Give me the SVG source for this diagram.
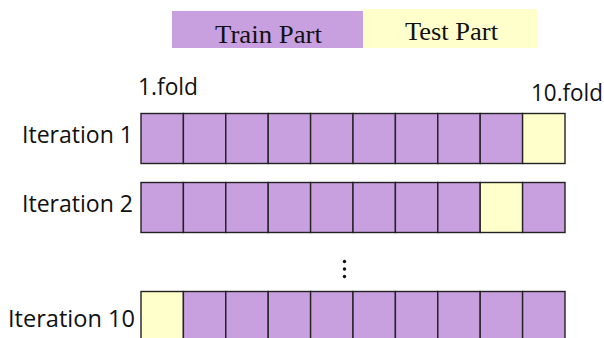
<svg xmlns="http://www.w3.org/2000/svg" width="604" height="338" viewBox="0 0 604 338">
<style>
.tr{fill:#C8A0E0;stroke:#222;stroke-width:1.4}
.te{fill:#FFFFCC;stroke:#222;stroke-width:1.4}
.lbl{font-family:"Open Sans","Noto Sans",sans-serif;font-size:23px;fill:#111}
.leg{font-family:"Liberation Serif","Times New Roman",serif;font-size:26px;fill:#111}
</style>
<rect width="604" height="338" fill="#fff"/>
<g id="legend">
<rect x="172" y="11" width="191" height="37" fill="#C8A0E0"/>
<rect x="363" y="9" width="175" height="39" fill="#FFFFCC"/>
<text class="leg" x="215" y="43" textLength="107" lengthAdjust="spacingAndGlyphs">Train Part</text>
<text class="leg" x="405" y="40" textLength="93" lengthAdjust="spacingAndGlyphs">Test Part</text>
</g>
<g id="fold-labels">
<text class="lbl" x="138" y="95" textLength="60" lengthAdjust="spacingAndGlyphs">1.fold</text>
<text class="lbl" x="531" y="101" textLength="72" lengthAdjust="spacingAndGlyphs">10.fold</text>
</g>
<g id="iteration1">
<text class="lbl" x="22" y="143" textLength="111" lengthAdjust="spacingAndGlyphs">Iteration 1</text>
<rect class="tr" x="141" y="113.5" width="42.4" height="50"/>
<rect class="tr" x="183.4" y="113.5" width="42.4" height="50"/>
<rect class="tr" x="225.8" y="113.5" width="42.4" height="50"/>
<rect class="tr" x="268.2" y="113.5" width="42.4" height="50"/>
<rect class="tr" x="310.6" y="113.5" width="42.4" height="50"/>
<rect class="tr" x="353" y="113.5" width="42.4" height="50"/>
<rect class="tr" x="395.4" y="113.5" width="42.4" height="50"/>
<rect class="tr" x="437.8" y="113.5" width="42.4" height="50"/>
<rect class="tr" x="480.2" y="113.5" width="42.4" height="50"/>
<rect class="te" x="522.6" y="113.5" width="42.4" height="50"/>
</g>
<g id="iteration2">
<text class="lbl" x="22" y="212" textLength="111" lengthAdjust="spacingAndGlyphs">Iteration 2</text>
<rect class="tr" x="141" y="182.5" width="42.4" height="50"/>
<rect class="tr" x="183.4" y="182.5" width="42.4" height="50"/>
<rect class="tr" x="225.8" y="182.5" width="42.4" height="50"/>
<rect class="tr" x="268.2" y="182.5" width="42.4" height="50"/>
<rect class="tr" x="310.6" y="182.5" width="42.4" height="50"/>
<rect class="tr" x="353" y="182.5" width="42.4" height="50"/>
<rect class="tr" x="395.4" y="182.5" width="42.4" height="50"/>
<rect class="tr" x="437.8" y="182.5" width="42.4" height="50"/>
<rect class="te" x="480.2" y="182.5" width="42.4" height="50"/>
<rect class="tr" x="522.6" y="182.5" width="42.4" height="50"/>
</g>
<g id="ellipsis" fill="#111">
<circle cx="344.5" cy="261.5" r="1.7"/>
<circle cx="344.5" cy="269" r="1.7"/>
<circle cx="344.5" cy="276.5" r="1.7"/>
</g>
<g id="iteration10">
<text class="lbl" x="8" y="327" textLength="127" lengthAdjust="spacingAndGlyphs">Iteration 10</text>
<rect class="te" x="141" y="291.5" width="42.4" height="50"/>
<rect class="tr" x="183.4" y="291.5" width="42.4" height="50"/>
<rect class="tr" x="225.8" y="291.5" width="42.4" height="50"/>
<rect class="tr" x="268.2" y="291.5" width="42.4" height="50"/>
<rect class="tr" x="310.6" y="291.5" width="42.4" height="50"/>
<rect class="tr" x="353" y="291.5" width="42.4" height="50"/>
<rect class="tr" x="395.4" y="291.5" width="42.4" height="50"/>
<rect class="tr" x="437.8" y="291.5" width="42.4" height="50"/>
<rect class="tr" x="480.2" y="291.5" width="42.4" height="50"/>
<rect class="tr" x="522.6" y="291.5" width="42.4" height="50"/>
</g>
</svg>
